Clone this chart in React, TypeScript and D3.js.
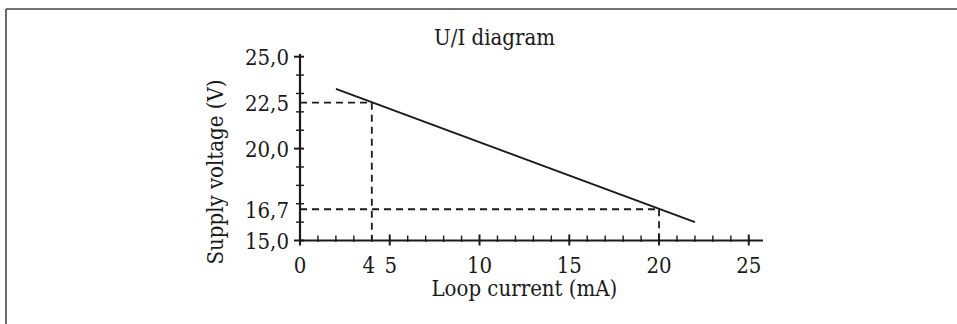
import * as d3 from "d3";

// U/I diagram: supply voltage vs loop current, with two marked operating points
const xMajor = [0, 5, 10, 15, 20, 25];
const xMinor = d3.range(0, 26);
const yMinor = d3.range(15, 26);
const yLabels = [
  { v: 25, text: "25,0" },
  { v: 22.5, text: "22,5" },
  { v: 20, text: "20,0" },
  { v: 16.7, text: "16,7" },
  { v: 15, text: "15,0" },
];
const yMajor = [25, 20, 15];
const xLabels = [
  { v: 0, text: "0" },
  { v: 4, text: "4" },
  { v: 5, text: "5" },
  { v: 10, text: "10" },
  { v: 15, text: "15" },
  { v: 20, text: "20" },
  { v: 25, text: "25" },
];
const linePts: [number, number][] = [
  [2, 23.25],
  [22, 16.0],
];
const markers = [
  { x: 4, y: 22.5 },
  { x: 20, y: 16.7 },
];

const W = 957, H = 324;
const font = "'DejaVu Serif Condensed', 'DejaVu Serif', serif";
const fs = 22;
const ink = "#1a1a1a";

export default function App() {
  const x = d3.scaleLinear().domain([0, 25]).range([300, 748.8]);
  const y = d3.scaleLinear().domain([15, 25]).range([240.5, 56.7]);
  const line = d3.line<[number, number]>().x((d) => x(d[0])).y((d) => y(d[1]));
  const mx = (v: number) => (v === 4 ? x(v) - 3 : v === 5 ? x(v) + 1 : x(v));

  return (
    <svg width={W} height={H} style={{ position: "absolute", left: 0, top: 0, background: "#fff" }}>
      {/* frame (only top and left edges visible) */}
      <line x1={6} x2={W} y1={9} y2={9} stroke="#444" strokeWidth={1.6} />
      <line x1={6} x2={6} y1={9} y2={H} stroke="#444" strokeWidth={1.6} />

      <text x={494.5} y={45} textAnchor="middle" fontSize={fs} fontFamily={font} fill={ink}>U/I diagram</text>

      {/* dashed guides */}
      {markers.map((m, i) => (
        <g key={i} stroke={ink} strokeWidth={1.8} strokeDasharray="7 5" fill="none">
          <line x1={x(0)} x2={x(m.x)} y1={y(m.y)} y2={y(m.y)} />
          <line x1={x(m.x)} x2={x(m.x)} y1={y(m.y)} y2={y(15)} />
        </g>
      ))}

      {/* axes */}
      <line x1={x(0)} x2={763} y1={y(15)} y2={y(15)} stroke={ink} strokeWidth={2.2} />
      <line x1={x(0)} x2={x(0)} y1={y(15)} y2={54} stroke={ink} strokeWidth={2.2} />
      {xMinor.map((t) => {
        const major = xMajor.includes(t);
        return <line key={`xt${t}`} x1={x(t)} x2={x(t)} y1={y(15) - (major ? 6 : 5)} y2={y(15) + (major ? 5 : 1.5)} stroke={ink} strokeWidth={major ? 2 : 1.4} />;
      })}
      {yMinor.map((t) => {
        const major = yMajor.includes(t);
        return <line key={`yt${t}`} x1={x(0) - (major ? 6 : 4)} x2={x(0) + 4} y1={y(t)} y2={y(t)} stroke={ink} strokeWidth={major ? 2 : 1.4} />;
      })}

      {yLabels.map((l) => (
        <text key={l.text} x={289} y={y(l.v) + 8.5} textAnchor="end" fontSize={fs} fontFamily={font} fill={ink}>{l.text}</text>
      ))}
      {xLabels.map((l) => (
        <text key={l.text} x={mx(l.v)} y={273} textAnchor="middle" fontSize={fs} fontFamily={font} fill={ink}>{l.text}</text>
      ))}

      {/* characteristic line */}
      <path d={line(linePts) ?? ""} fill="none" stroke={ink} strokeWidth={2} />

      <text x={(x(0) + x(25)) / 2} y={296} textAnchor="middle" fontSize={fs} fontFamily={font} fill={ink}>Loop current (mA)</text>
      <text transform="translate(223,172) rotate(-90)" textAnchor="middle" fontSize={fs} fontFamily={font} fill={ink}>Supply voltage (V)</text>
    </svg>
  );
}
